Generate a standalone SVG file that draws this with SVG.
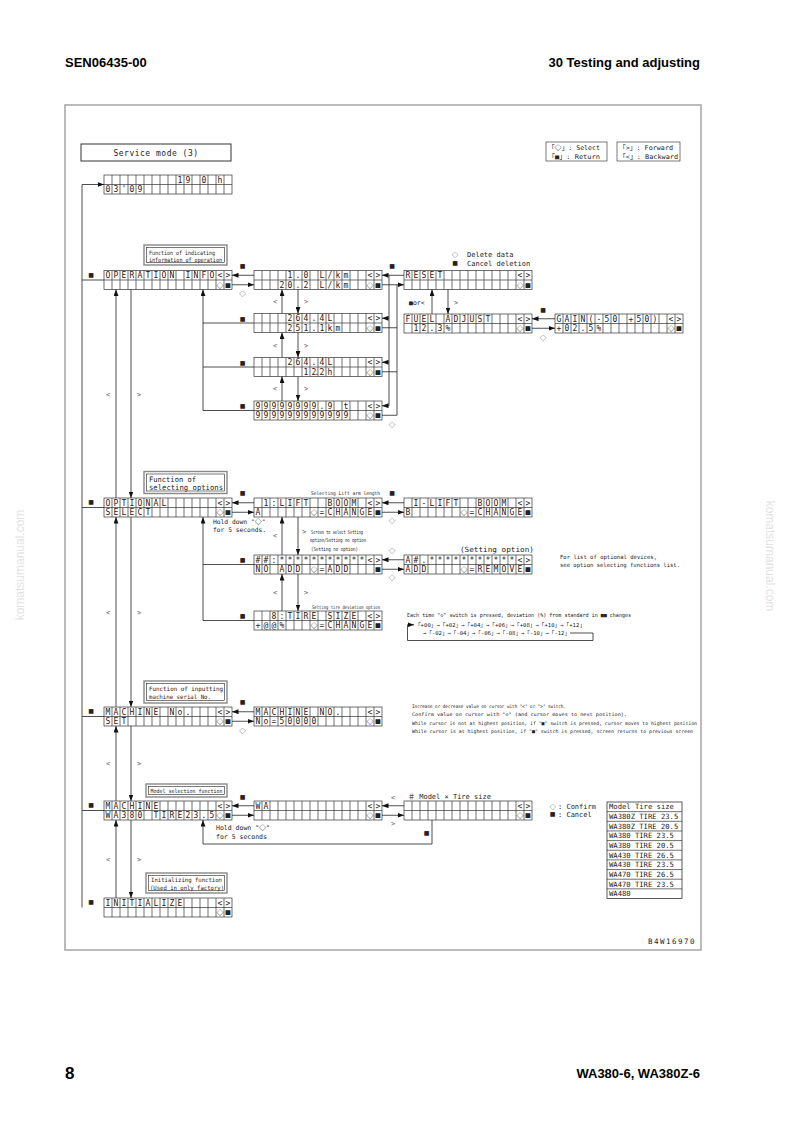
<svg xmlns="http://www.w3.org/2000/svg" width="794" height="1124" viewBox="0 0 794 1124">
<defs>
<style>
.g{fill:none;stroke:#333;stroke-width:.7}
.k{fill:none;stroke:#222;stroke-width:.8}
.a{marker-end:url(#ar)}
.c{font-family:"DejaVu Sans Mono",monospace;font-size:8px;text-anchor:middle;fill:#222}
.s{font-family:"DejaVu Sans",sans-serif;font-size:6px;text-anchor:middle;fill:#222}
.sd{font-family:"Noto Sans CJK JP",sans-serif;font-size:6.5px;text-anchor:middle;fill:#222}
.d{font-family:"Noto Sans CJK JP",sans-serif;font-size:7px;font-weight:bold}
.t{font-family:"DejaVu Sans Mono","Noto Sans CJK JP",monospace;fill:#222}
.l{font-family:"DejaVu Sans Mono",monospace;font-size:7px;text-anchor:middle;fill:#555}
.fo{fill:none;stroke:#888;stroke-width:1.4}
.fi{fill:none;stroke:#222;stroke-width:.6}
.h{font-family:"Liberation Sans",Arial,sans-serif;font-weight:bold;fill:#000}
.wm{font-family:"Liberation Sans",Arial,sans-serif;font-size:12px;fill:#e2e2e2;text-anchor:middle}
</style>
<marker id="ar" viewBox="0 0 8 6" refX="8" refY="3" markerWidth="6.5" markerHeight="5" markerUnits="userSpaceOnUse" orient="auto"><path d="M0 0L8 3L0 6z" fill="#111"/></marker>
<g id="lcd"><rect width="128" height="19"/><path d="M0 9.5H128M8 0V19M16 0V19M24 0V19M32 0V19M40 0V19M48 0V19M56 0V19M64 0V19M72 0V19M80 0V19M88 0V19M96 0V19M104 0V19M112 0V19M120 0V19"/></g>
</defs>
<rect width="794" height="1124" fill="#fff"/>

<g id="header">
<text class="h" x="65" y="67" font-size="13">SEN06435-00</text>
<text class="h" x="700" y="67" font-size="13" text-anchor="end">30 Testing and adjusting</text>
<text class="h" x="65" y="1079" font-size="17">8</text>
<text class="h" x="700" y="1078" font-size="13" text-anchor="end">WA380-6, WA380Z-6</text>
<text class="wm" transform="translate(24,565) rotate(-90)">komatsumanual.com</text>
<text class="wm" transform="translate(766,556) rotate(90)">komatsumanual.com</text>
</g>

<rect id="frame" x="65" y="105" width="636" height="845" fill="none" stroke="#aaa" stroke-width="1.6"/>

<g id="title">
<rect x="81" y="144" width="150" height="17" fill="none" stroke="#333" stroke-width="1"/>
<text class="t" x="156" y="155.5" font-size="8" letter-spacing=".5" text-anchor="middle">Service mode (3)</text>
</g>

<g id="legend">
<rect x="546" y="142" width="61" height="19" class="fi"/>
<text class="t" x="548" y="150" font-size="6.5" textLength="52" lengthAdjust="spacingAndGlyphs">「<tspan class="d" font-size="6.5">◇</tspan>」: Select</text>
<text class="t" x="548" y="158.5" font-size="6.5" textLength="52" lengthAdjust="spacingAndGlyphs">「■」: Return</text>
<rect x="617" y="142" width="63" height="19" class="fi"/>
<text class="t" x="619" y="150" font-size="6.5" textLength="54" lengthAdjust="spacingAndGlyphs">「&gt;」: Forward</text>
<text class="t" x="619" y="158.5" font-size="6.5" textLength="59" lengthAdjust="spacingAndGlyphs">「&lt;」: Backward</text>
</g>

<!-- function boxes -->
<g id="f_op"><rect x="144" y="245" width="83" height="20" class="fo"/><rect x="146.5" y="247.5" width="78" height="15" class="fi"/>
<text class="t" x="149" y="254.5" font-size="5.8" textLength="66" lengthAdjust="spacingAndGlyphs">Function of indicating</text>
<text class="t" x="149" y="261.5" font-size="5.8" textLength="73" lengthAdjust="spacingAndGlyphs">information of operation</text></g>
<g id="f_opt"><rect x="144" y="471.5" width="83" height="22" class="fo"/><rect x="146.5" y="474" width="78" height="17" class="fi"/>
<text class="t" x="149" y="481.5" font-size="7.5" textLength="47" lengthAdjust="spacingAndGlyphs">Function of</text>
<text class="t" x="149" y="489.5" font-size="7.5" textLength="74" lengthAdjust="spacingAndGlyphs">selecting options</text></g>
<g id="f_mno"><rect x="144" y="681" width="83" height="22" class="fo"/><rect x="146.5" y="683.5" width="78" height="17" class="fi"/>
<text class="t" x="149" y="690.5" font-size="6" textLength="74" lengthAdjust="spacingAndGlyphs">Function of inputting</text>
<text class="t" x="149" y="698.5" font-size="6" textLength="62" lengthAdjust="spacingAndGlyphs">machine serial No.</text></g>
<g id="f_model"><rect x="146" y="784" width="81" height="13" class="fo"/><rect x="148.5" y="786.5" width="76" height="8" class="fi"/>
<text class="t" x="150.5" y="793" font-size="5.5" textLength="72" lengthAdjust="spacingAndGlyphs">Model selection function</text></g>
<g id="f_init"><rect x="146" y="873" width="81" height="20" class="fo"/><rect x="148.5" y="875.5" width="76" height="15" class="fi"/>
<text class="t" x="151" y="881.5" font-size="5.8" textLength="71" lengthAdjust="spacingAndGlyphs">Initializing function</text>
<text class="t" x="150" y="889.5" font-size="5.8" textLength="74" lengthAdjust="spacingAndGlyphs">(Used in only factory)</text></g>

<!-- displays -->
<g id="d0"><use href="#lcd" class="g" x="104" y="175"/>
<text class="c" x="180 188 204 220" y="182.7">190h</text>
<text class="c" x="108 116 124 132 140" y="192.2">03'09</text></g>

<g id="d_op"><use href="#lcd" class="g" x="104" y="270.5"/>
<text class="c" x="108 116 124 132 140 148 156 164 172 188 196 204 212 220 228" y="278.2">OPERATIONINFO&lt;&gt;</text>
<text class="c" x="220 228" y="287.7"><tspan class="d">◇</tspan>■</text></g>

<g id="d_op1"><use href="#lcd" class="g" x="254" y="270.5"/>
<text class="c" x="290 298 306 322 330 338 346 370 378" y="278.2">1.0L/km&lt;&gt;</text>
<text class="c" x="282 290 298 306 322 330 338 346 370 378" y="287.7">20.2L/km<tspan class="d">◇</tspan>■</text></g>

<g id="d_op2"><use href="#lcd" class="g" x="254" y="313.5"/>
<text class="c" x="290 298 306 314 322 330 370 378" y="321.2">264.4L&lt;&gt;</text>
<text class="c" x="290 298 306 314 322 330 338 370 378" y="330.7">251.1km<tspan class="d">◇</tspan>■</text></g>

<g id="d_op3"><use href="#lcd" class="g" x="254" y="357.5"/>
<text class="c" x="290 298 306 314 322 330 370 378" y="365.2">264.4L&lt;&gt;</text>
<text class="c" x="306 314 317 322 330 370 378" y="374.7">12.2h<tspan class="d">◇</tspan>■</text></g>

<g id="d_op4"><use href="#lcd" class="g" x="254" y="401"/>
<text class="c" x="258 266 274 282 290 298 306 314 322 330 346 370 378" y="408.7">99999999.9t&lt;&gt;</text>
<text class="c" x="258 266 274 282 290 298 306 314 322 330 338 346 370 378" y="418.2">999999999999<tspan class="d">◇</tspan>■</text></g>

<g id="d_reset"><use href="#lcd" class="g" x="404" y="270.5"/>
<text class="c" x="408 416 424 432 440 520 528" y="278.2">RESET&lt;&gt;</text>
<text class="c" x="520 528" y="287.7"><tspan class="d">◇</tspan>■</text></g>

<g id="d_fuel"><use href="#lcd" class="g" x="404" y="314"/>
<text class="c" x="408 416 424 432 448 456 464 472 480 488 520 528" y="321.7">FUELADJUST&lt;&gt;</text>
<text class="c" x="416 424 432 440 448 520 528" y="331.2">12.3%<tspan class="d">◇</tspan>■</text></g>

<g id="d_gain"><use href="#lcd" class="g" x="555" y="314"/>
<text class="c" x="559 567 575 583 591 599 607 615 631 639 647 655 671 679" y="321.7">GAIN(-50+50)&lt;&gt;</text>
<text class="c" x="559 567 575 583 591 599 671 679" y="331.2">+02.5%<tspan class="d">◇</tspan>■</text></g>

<g id="d_opt"><use href="#lcd" class="g" x="104" y="498"/>
<text class="c" x="108 116 124 132 140 148 156 164 220 228" y="505.7">OPTIONAL&lt;&gt;</text>
<text class="c" x="108 116 124 132 140 148 220 228" y="515.2">SELECT<tspan class="d">◇</tspan>■</text></g>

<g id="d_opt1"><use href="#lcd" class="g" x="254" y="498"/>
<text class="c" x="266 274 282 290 298 306 330 338 346 354 370 378" y="505.7">1:LIFTBOOM&lt;&gt;</text>
<text class="c" x="258 314 322 330 338 346 354 362 370 378" y="515.2">A<tspan class="d">◇</tspan>=CHANGE■</text></g>

<g id="d_opt1b"><use href="#lcd" class="g" x="404" y="498"/>
<text class="c" x="416 424 432 440 448 456 480 488 496 504 520 528" y="505.7">I-LIFTBOOM&lt;&gt;</text>
<text class="c" x="408 464 472 480 488 496 504 512 520 528" y="515.2">B<tspan class="d">◇</tspan>=CHANGE■</text></g>

<g id="d_opt2"><use href="#lcd" class="g" x="254" y="555"/>
<text class="c" x="258 266 274 282 290 298 306 314 322 330 338 346 354 362 370 378" y="562.7">##:***********&lt;&gt;</text>
<text class="c" x="258 266 282 290 298 314 322 330 338 346 378" y="572.2">NOADD<tspan class="d">◇</tspan>=ADD■</text></g>

<g id="d_opt2b"><use href="#lcd" class="g" x="404" y="555"/>
<text class="c" x="408 416 424 432 440 448 456 464 472 480 488 496 504 512 520 528" y="562.7">A#.***********&lt;&gt;</text>
<text class="c" x="408 416 424 464 472 480 488 496 504 512 520 528" y="572.2">ADD<tspan class="d">◇</tspan>=REMOVE■</text></g>

<g id="d_opt3"><use href="#lcd" class="g" x="254" y="611"/>
<text class="c" x="274 282 290 298 306 314 330 338 346 354 370 378" y="618.7">8:TIRESIZE&lt;&gt;</text>
<text class="c" x="258 266 274 282 314 322 330 338 346 354 362 370 378" y="628.2">+@@%<tspan class="d">◇</tspan>=CHANGE■</text></g>

<g id="d_mno"><use href="#lcd" class="g" x="104" y="707"/>
<text class="c" x="108 116 124 132 140 148 156 172 180 188 220 228" y="714.7">MACHINENo.&lt;&gt;</text>
<text class="c" x="108 116 124 220 228" y="724.2">SET<tspan class="d">◇</tspan>■</text></g>

<g id="d_mno2"><use href="#lcd" class="g" x="254" y="707"/>
<text class="c" x="258 266 274 282 290 298 306 322 330 338 370 378" y="714.7">MACHINENO.&lt;&gt;</text>
<text class="c" x="258 266 274 282 290 298 306 314 370 378" y="724.2">No=50000<tspan class="d">◇</tspan>■</text></g>

<g id="d_m"><use href="#lcd" class="g" x="104" y="801"/>
<text class="c" x="108 116 124 132 140 148 156 220 228" y="808.7">MACHINE&lt;&gt;</text>
<text class="c" x="108 116 124 132 140 156 164 172 180 188 196 204 212 220 228" y="818.2">WA380TIRE23.5<tspan class="d">◇</tspan>■</text></g>

<g id="d_wa"><use href="#lcd" class="g" x="254" y="801"/>
<text class="c" x="258 266 370 378" y="808.7">WA&lt;&gt;</text>
<text class="c" x="370 378" y="818.2"><tspan class="d">◇</tspan>■</text></g>

<g id="d_model"><use href="#lcd" class="g" x="404" y="801"/>
<text class="c" x="520 528" y="808.7">&lt;&gt;</text>
<text class="c" x="520 528" y="818.2"><tspan class="d">◇</tspan>■</text></g>

<g id="d_init"><use href="#lcd" class="g" x="104" y="898"/>
<text class="c" x="108 116 124 132 140 148 156 164 172 180 220 228" y="905.7">INITIALIZE&lt;&gt;</text>
<text class="c" x="220 228" y="915.2"><tspan class="d">◇</tspan>■</text></g>

<g id="model_table">
<rect x="607" y="802" width="75" height="96.5" fill="none" stroke="#333" stroke-width=".8"/>
<path class="g" d="M607 811.65H682M607 821.3H682M607 830.95H682M607 840.6H682M607 850.25H682M607 859.9H682M607 869.55H682M607 879.2H682M607 888.85H682"/>
<g class="t" font-size="7.2">
<text x="609" y="809.4">Model Tire size</text>
<text x="609" y="819">WA380Z TIRE 23.5</text>
<text x="609" y="828.7">WA380Z TIRE 20.5</text>
<text x="609" y="838.3">WA380 TIRE 23.5</text>
<text x="609" y="848">WA380 TIRE 20.5</text>
<text x="609" y="857.6">WA430 TIRE 26.5</text>
<text x="609" y="867.3">WA430 TIRE 23.5</text>
<text x="609" y="876.9">WA470 TIRE 26.5</text>
<text x="609" y="886.6">WA470 TIRE 23.5</text>
<text x="609" y="896.2">WA480</text>
</g></g>

<!-- connectors -->
<g id="connectors" class="k">
<path class="a" d="M82 907.5V184.5H104"/>
<path d="M104 280H82M104 507.5H82M104 716.5H82M104 810.5H82"/>
<path class="a" d="M116 498V289.5"/><path class="a" d="M131 289.5V498"/>
<path class="a" d="M116 707V517"/><path class="a" d="M131 517V707"/>
<path class="a" d="M116 801V726"/><path class="a" d="M131 726V801"/>
<path class="a" d="M116 898V820"/><path class="a" d="M131 820V898"/>

<path class="a" d="M254 275.25H232"/><path class="a" d="M232 284.75H254"/>
<path class="a" d="M282 313.5V289.5"/><path class="a" d="M298 289.5V313.5"/>
<path class="a" d="M282 357.5V332.5"/><path class="a" d="M298 332.5V357.5"/>
<path class="a" d="M282 401V376.5"/><path class="a" d="M298 376.5V401"/>
<path class="a" d="M203 410.5V289.5"/>
<path d="M254 323H203M254 367H203M254 410.5H203"/>
<path class="a" d="M404 275.25H382"/>
<path d="M389 275.25V405.75"/>
<path class="a" d="M389 318.25H382"/><path class="a" d="M389 362.25H382"/><path class="a" d="M389 405.75H382"/>
<path class="a" d="M382 284.75H404"/>
<path d="M397 284.75V415.25M382 327.75H397M382 371.75H397M382 415.25H397"/>
<path class="a" d="M432 314V289.5"/><path class="a" d="M448 289.5V314"/>
<path class="a" d="M555 318.75H532"/><path class="a" d="M532 328.25H555"/>

<path class="a" d="M254 502.75H232"/><path class="a" d="M232 512.25H254"/>
<path class="a" d="M282 555V517"/><path class="a" d="M298 517V555"/>
<path class="a" d="M282 611V574"/><path class="a" d="M298 574V611"/>
<path class="a" d="M203 620.5V517"/>
<path d="M254 564.5H203M254 620.5H203"/>
<path class="a" d="M404 502.75H382"/><path class="a" d="M382 512.25H404"/>
<path class="a" d="M404 559.75H382"/><path class="a" d="M382 569.25H404"/>

<path class="a" d="M254 711.75H232"/><path class="a" d="M232 721.25H254"/>

<path class="a" d="M254 805.75H232"/><path class="a" d="M232 815.25H254"/>
<path class="a" d="M404 805.75H382"/><path class="a" d="M382 815.25H404"/>
<path class="a" d="M432 820V844H203V820"/>

<path class="a" d="M570 633H593V640.5H407.5V624.8H414"/>
</g>

<!-- annotations -->
<g id="annotations">
<g class="s">
<text x="91" y="276.5">■</text><text x="91" y="504">■</text><text x="91" y="713">■</text><text x="91" y="807">■</text><text x="91" y="904">■</text>
<text x="242.5" y="268">■</text>
<text x="242.5" y="320.5">■</text><text x="242.5" y="364.5">■</text><text x="242.5" y="408">■</text>
<text x="392" y="268">■</text>
<text x="543" y="312">■</text>
<text x="455" y="265.3">■</text>
<text x="242.5" y="494.5">■</text>
<text x="242.5" y="562">■</text><text x="242.5" y="618">■</text>
<text x="392" y="494.5">■</text>
<text x="242.5" y="704">■</text>
<text x="242.5" y="798.5">■</text><text x="426.5" y="835">■</text>
<text x="552.7" y="816.3">■</text>
</g>
<g class="sd">
<text x="242.5" y="295.5">◇</text>
<text x="392" y="426.5">◇</text>
<text x="543" y="339.5">◇</text>
<text x="455" y="256.5">◇</text>
<text x="392" y="522.5">◇</text>
<text x="392" y="552.5">◇</text><text x="392" y="579.5">◇</text>
<text x="242.5" y="732.5">◇</text>
<text x="552.7" y="809">◇</text>
</g>
<g class="l">
<text x="108" y="396.5">&lt;</text><text x="139" y="396.5">&gt;</text>
<text x="108" y="614.5">&lt;</text><text x="139" y="614.5">&gt;</text>
<text x="108" y="766">&lt;</text><text x="139" y="766">&gt;</text>
<text x="108" y="861.5">&lt;</text><text x="139" y="861.5">&gt;</text>
<text x="275" y="304">&lt;</text><text x="306" y="304">&gt;</text>
<text x="275" y="348">&lt;</text><text x="306" y="348">&gt;</text>
<text x="275" y="391">&lt;</text><text x="306" y="391">&gt;</text>
<text x="456" y="304.5">&gt;</text>
<text x="275" y="537.5">&lt;</text><text x="304" y="534">&gt;</text>
<text x="275" y="594.5">&lt;</text><text x="306" y="594.5">&gt;</text>
<text x="393" y="799.5">&lt;</text><text x="393" y="825.5">&gt;</text>
</g>
<text class="t" x="409" y="304.5" font-size="6.5">■or&lt;</text>
<text class="t" x="467" y="256.5" font-size="7">Delete data</text>
<text class="t" x="467" y="265.5" font-size="7">Cancel deletion</text>
<text class="t" x="213" y="524" font-size="6.3">Hold down "<tspan class="d" font-size="6.3">◇</tspan>"</text>
<text class="t" x="213" y="531.5" font-size="6.3">for 5 seconds.</text>
<text class="t" x="380" y="494.5" font-size="5" text-anchor="end" textLength="69" lengthAdjust="spacingAndGlyphs">Selecting Lift arm length</text>
<text class="t" x="380" y="608.5" font-size="5" text-anchor="end" textLength="68" lengthAdjust="spacingAndGlyphs">Setting tire deviation option</text>
<text class="t" x="311" y="533.5" font-size="5.5" textLength="52" lengthAdjust="spacingAndGlyphs">Screen to select Setting</text>
<text class="t" x="310" y="542" font-size="5.5" textLength="56" lengthAdjust="spacingAndGlyphs">option/Setting no option</text>
<text class="t" x="311" y="550.5" font-size="5.5" textLength="47" lengthAdjust="spacingAndGlyphs">(Setting no option)</text>
<text class="t" x="460" y="551.5" font-size="7.2" textLength="74" lengthAdjust="spacingAndGlyphs">(Setting option)</text>
<text class="t" x="560" y="559" font-size="5.6" textLength="97" lengthAdjust="spacingAndGlyphs">For list of optional devices,</text>
<text class="t" x="560" y="566.5" font-size="5.6" textLength="120" lengthAdjust="spacingAndGlyphs">see option selecting functions list.</text>
<text class="t" x="407" y="617" font-size="5.5" textLength="224" lengthAdjust="spacingAndGlyphs">Each time "◇" switch is pressed, deviation (%) from standard in ■■ changes</text>
<text class="t" x="415" y="627" font-size="5.5" textLength="170" lengthAdjust="spacingAndGlyphs">「+00」→「+02」→「+04」→「+06」→「+08」→「+10」→「+12」</text>
<text class="t" x="423" y="635" font-size="5.5" textLength="147" lengthAdjust="spacingAndGlyphs">→「-02」→「-04」→「-06」→「-08」→「-10」→「-12」</text>
<text class="t" x="412" y="708" font-size="4.8" textLength="154" lengthAdjust="spacingAndGlyphs">Increase or decrease value on cursor with "&lt;" or "&gt;" switch.</text>
<text class="t" x="412" y="716.3" font-size="4.8" textLength="215" lengthAdjust="spacingAndGlyphs">Confirm value on cursor with "◇" (and cursor moves to next position).</text>
<text class="t" x="412" y="724.6" font-size="4.8" textLength="285" lengthAdjust="spacingAndGlyphs">While cursor is not at highest position, if "■" switch is pressed, cursor moves to highest position</text>
<text class="t" x="412" y="733" font-size="4.8" textLength="281" lengthAdjust="spacingAndGlyphs">While cursor is at highest position, if "■" switch is pressed, screen returns to previous screen</text>
<text class="t" x="216" y="829.5" font-size="6.5">Hold down "<tspan class="d" font-size="6.5">◇</tspan>"</text>
<text class="t" x="216" y="839" font-size="6.5">for 5 seconds</text>
<text class="t" x="408" y="799" font-size="7">＃ Model × Tire size</text>
<text class="t" x="558" y="809" font-size="7">: Confirm</text>
<text class="t" x="558" y="817" font-size="7">: Cancel</text>
<text class="t" x="648" y="944" font-size="7.5" letter-spacing="1.5">B4W16970</text>
</g>
</svg>
